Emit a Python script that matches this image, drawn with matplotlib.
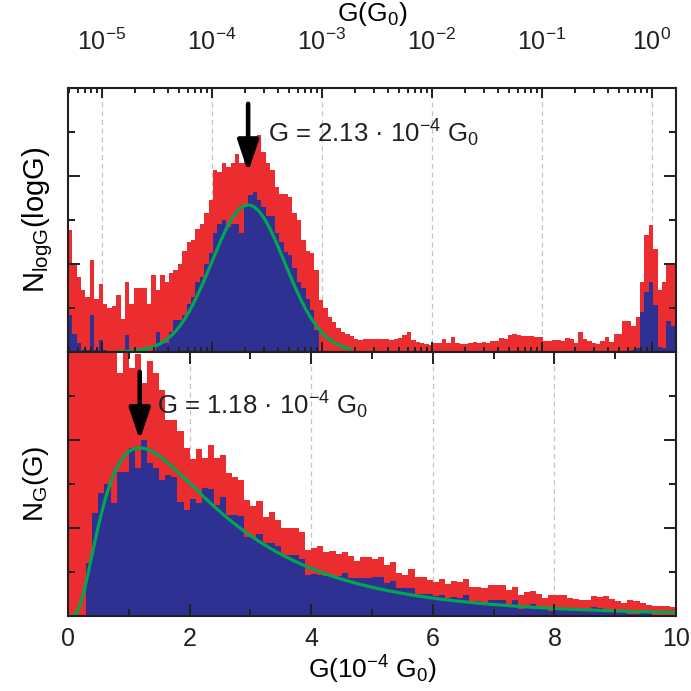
import numpy as np
import matplotlib
matplotlib.use('Agg')
import matplotlib.pyplot as plt
from matplotlib.ticker import LogLocator, MultipleLocator, NullFormatter, FixedLocator

plt.rcParams['font.family'] = ['Liberation Sans', 'DejaVu Sans']
plt.rcParams['mathtext.fontset'] = 'custom'
plt.rcParams['mathtext.rm'] = 'Liberation Sans'
plt.rcParams['mathtext.it'] = 'Liberation Sans:italic'
plt.rcParams['mathtext.bf'] = 'Liberation Sans:bold'

RED = '#EB2D2F'
BLUE = '#2E3192'
GREEN = '#00A651'
INK = '#231F20'

# %% data (counts in tick units, 0..6 per panel)
# top panel: log-binned, bins of 0.04 decade starting at 10^-5.31
log_start = -5.31
log_bin = 0.04
red_log = [2.77, 2.0, 1.7, 1.4, 1.25, 2.1, 1.2, 1.55, 1.1, 1.0,
           1.05, 1.3, 0.75, 1.6, 1.1, 1.45, 1.45, 1.45, 1.1, 1.75,
           1.4, 1.75, 1.6, 1.8, 1.86, 2.0, 2.3, 2.5, 2.55, 2.8,
           2.9, 3.15, 3.45, 4.14, 4.1, 4.3, 4.2, 4.3, 4.5, 4.3,
           4.4, 4.6, 4.82, 4.93, 4.54, 4.3, 4.14, 3.76, 3.6, 3.6,
           3.53, 3.15, 3.0, 2.55, 2.3, 2.24, 1.86, 1.18, 1.0, 0.8,
           0.69, 0.55, 0.45, 0.42, 0.36, 0.3, 0.27, 0.3, 0.3, 0.3,
           0.3, 0.29, 0.3, 0.28, 0.3, 0.32, 0.39, 0.45, 0.27, 0.23,
           0.2, 0.18, 0.17, 0.2, 0.21, 0.29, 0.2, 0.33, 0.2, 0.18,
           0.19, 0.21, 0.22, 0.21, 0.22, 0.2, 0.24, 0.26, 0.31, 0.3,
           0.39, 0.4, 0.38, 0.37, 0.36, 0.37, 0.34, 0.33, 0.24, 0.25,
           0.27, 0.27, 0.24, 0.32, 0.3, 0.2, 0.45, 0.29, 0.26, 0.2,
           0.18, 0.24, 0.34, 0.22, 0.4, 0.42, 0.7, 0.7, 0.6, 0.8,
           1.6, 2.66, 2.88, 2.35, 1.4, 1.6, 1.98, 1.98, 1.86]
blue_log = [0.84, 0.4, 0.2, 0.05, 0.05, 0.84, 0.05, 0.27, 0.05, 0.03,
            0.03, 0, 0, 0.38, 0.03, 0, 0, 0.03, 0, 0.03,
            0.45, 0.2, 0.2, 0.45, 0.73, 0.73, 0.84, 1.1, 1.26, 1.6,
            1.7, 2.0, 2.24, 2.7, 2.9, 3.0, 2.85, 2.9, 2.9, 2.7,
            3.3, 3.57, 3.64, 3.45, 3.3, 3.1, 3.1, 2.7, 2.5, 2.27,
            2.2, 1.9, 1.6, 1.45, 1.2, 0.95, 0.5, 0, 0, 0,
            0, 0, 0, 0, 0, 0, 0, 0, 0, 0,
            0, 0, 0, 0, 0, 0, 0, 0, 0, 0,
            0, 0, 0, 0, 0, 0, 0, 0, 0, 0,
            0, 0, 0, 0, 0, 0, 0, 0, 0, 0,
            0, 0, 0, 0, 0, 0, 0, 0, 0, 0,
            0, 0, 0, 0, 0, 0, 0, 0, 0, 0,
            0, 0, 0, 0, 0, 0, 0, 0, 0.05, 0.1,
            0.9, 1.37, 1.58, 1.07, 0.12, 0.1, 0.7, 0.58, 0.58]

# bottom panel: linear bins of 0.1 (10^-4 G0) from 0 to 10
lin_bin = 0.1
red_lin = [7.0, 7.5, 8.0, 8.0, 7.5, 7.5, 7.0, 7.0, 5.52, 6.5,
           5.64, 5.95, 5.3, 5.8, 5.52, 5.14, 4.45, 4.45, 4.2, 3.82,
           3.56, 3.8, 3.6, 3.88, 3.6, 3.66, 3.24, 3.17, 3.1, 2.64,
           2.5, 2.61, 2.26, 2.37, 2.18, 1.99, 2.0, 2.0, 1.92, 1.5,
           1.55, 1.59, 1.46, 1.47, 1.42, 1.45, 1.36, 1.26, 1.33, 1.33,
           1.3, 1.35, 1.16, 1.23, 0.97, 0.93, 1.06, 0.88, 0.89, 0.82,
           0.78, 0.83, 0.72, 0.8, 0.78, 0.84, 0.65, 0.66, 0.63, 0.7,
           0.7, 0.7, 0.6, 0.66, 0.48, 0.55, 0.56, 0.5, 0.42, 0.48,
           0.48, 0.48, 0.42, 0.39, 0.36, 0.36, 0.45, 0.44, 0.45, 0.38,
           0.33, 0.29, 0.36, 0.34, 0.3, 0.25, 0.23, 0.23, 0.22, 0.21]
blue_lin = [0, 0, 0, 1.2, 2.33, 2.8, 3.0, 2.56, 3.28, 3.28,
            3.82, 3.36, 4.0, 3.47, 3.36, 3.1, 3.2, 3.17, 2.6, 2.4,
            2.67, 2.56, 2.9, 2.88, 2.52, 2.7, 2.3, 2.3, 2.28, 1.8,
            1.8, 1.86, 1.65, 1.65, 1.6, 1.39, 1.39, 1.39, 1.3, 0.93,
            0.96, 0.93, 0.9, 0.9, 0.9, 0.98, 0.86, 0.86, 0.86, 0.86,
            0.89, 0.89, 0.74, 0.8, 0.63, 0.63, 0.64, 0.5, 0.5, 0.5,
            0.46, 0.48, 0.42, 0.44, 0.41, 0.48, 0.3, 0.35, 0.3, 0.36,
            0.36, 0.36, 0.27, 0.36, 0.16, 0.22, 0.27, 0.22, 0.18, 0.12,
            0.15, 0.15, 0.15, 0.15, 0.12, 0.12, 0.2, 0.18, 0.16, 0.1,
            0.1, 0.08, 0.05, 0.05, 0.07, 0.07, 0.03, 0.02, 0.02, 0.02]

# log-normal fit: median and mode from the annotations (10^-4 G0)
g_median = 2.13
g_mode = 1.18
fit_peak_log = 3.34
fit_peak_lin = 3.82

# %% figure
fig = plt.figure(figsize=(6.91, 6.91), dpi=100)
W = 691.0
ax1 = fig.add_axes([68 / W, 1 - 352 / W, 608 / W, 264 / W])
ax2 = fig.add_axes([68 / W, 1 - 616 / W, 608 / W, 264 / W])

s2 = np.log(g_median / g_mode)
arrow = dict(arrowstyle='-|>,head_length=0.95,head_width=0.32',
             lw=3.3, color='k', mutation_scale=20, shrinkA=0, shrinkB=0)

# top panel
edges_log = 10 ** (log_start + log_bin * np.arange(len(red_log) + 1))
ax1.stairs(red_log, edges_log, fill=True, color=RED, lw=0, zorder=1)
ax1.stairs(blue_log, edges_log, fill=True, color=BLUE, lw=0, zorder=1.1)
g_fit = np.logspace(-4.85, -2.75, 300)
y_fit = fit_peak_log * np.exp(-np.log(g_fit / (g_median * 1e-4)) ** 2 / (2 * s2))
ax1.plot(g_fit, y_fit, color=GREEN, lw=2.3, zorder=1.2)
ax1.set_xscale('log')
ax1.set_xlim(10 ** -5.309, 10 ** 0.218)
ax1.set_ylim(0, 6)
ax1.xaxis.set_major_locator(LogLocator(base=10, numticks=20))
ax1.xaxis.set_minor_locator(LogLocator(base=10, subs=np.arange(2, 10), numticks=20))
ax1.xaxis.set_minor_formatter(NullFormatter())
ax1.xaxis.set_label_position('top')
ax1.set_xlabel('G(G$_0$)', fontsize=19, labelpad=5)
ax1.set_ylabel('N$_{\\mathrm{logG}}$(logG)', fontsize=21, labelpad=9)
ax1.annotate('', xy=(g_median * 1e-4, 4.09), xytext=(g_median * 1e-4, 5.64),
             arrowprops=arrow)
ax1.text(10 ** -3.49, 4.98, 'G = 2.13 · 10$^{-4}$ G$_0$', fontsize=18.5,
         va='center', ha='left', color=INK)

# bottom panel
edges_lin = lin_bin * np.arange(len(red_lin) + 1)
ax2.stairs(red_lin, edges_lin, fill=True, color=RED, lw=0, zorder=1)
ax2.stairs(blue_lin, edges_lin, fill=True, color=BLUE, lw=0, zorder=1.1)
g_lin = np.linspace(0.07, 10, 400)
shape = lambda g: np.exp(-np.log(g / g_median) ** 2 / (2 * s2)) / g
ax2.plot(g_lin, fit_peak_lin * shape(g_lin) / shape(g_mode), color=GREEN, lw=2.3, zorder=1.2)
ax2.set_xlim(0, 10)
ax2.set_ylim(0, 6)
ax2.xaxis.set_major_locator(MultipleLocator(2))
ax2.xaxis.set_minor_locator(MultipleLocator(1))
ax2.set_xlabel('G(10$^{-4}$ G$_0$)', fontsize=19, labelpad=2)
ax2.set_ylabel('N$_\\mathrm{G}$(G)', fontsize=20, labelpad=12)
ax2.annotate('', xy=(g_mode, 4.0), xytext=(g_mode, 5.55), arrowprops=arrow)
ax2.text(1.46, 4.8, 'G = 1.18 · 10$^{-4}$ G$_0$', fontsize=18.5,
         va='center', ha='left', color=INK)

for ax in (ax1, ax2):
    ax.yaxis.set_major_locator(FixedLocator([0, 2, 4, 6]))
    ax.yaxis.set_minor_locator(FixedLocator([1, 3, 5]))
    ax.tick_params(which='both', direction='in', top=True, bottom=True,
                   left=True, right=True, labelleft=False, color=INK,
                   width=1.4, labelsize=18, labelcolor=INK)
    ax.tick_params(which='major', length=8.5)
    ax.tick_params(which='minor', length=5)
    for sp in ax.spines.values():
        sp.set_linewidth(1.5)
        sp.set_color(INK)
    # dashed guide lines behind the bars, at the major x ticks
    lo, hi = ax.get_xlim()
    for xv in ax.get_xticks():
        if lo < xv < hi:
            ax.axvline(xv, color='#c4c4c4', lw=0.9, ls=(0, (4, 3)), zorder=0.5)

ax1.tick_params(axis='x', which='both', labeltop=True, labelbottom=False, pad=24)
ax1.tick_params(axis='x', which='minor', length=3.5)
ax1.tick_params(axis='x', which='major', length=7)
ax2.tick_params(axis='x', which='both', labeltop=False, labelbottom=True, pad=8)

fig.savefig('out.png', dpi=100)
